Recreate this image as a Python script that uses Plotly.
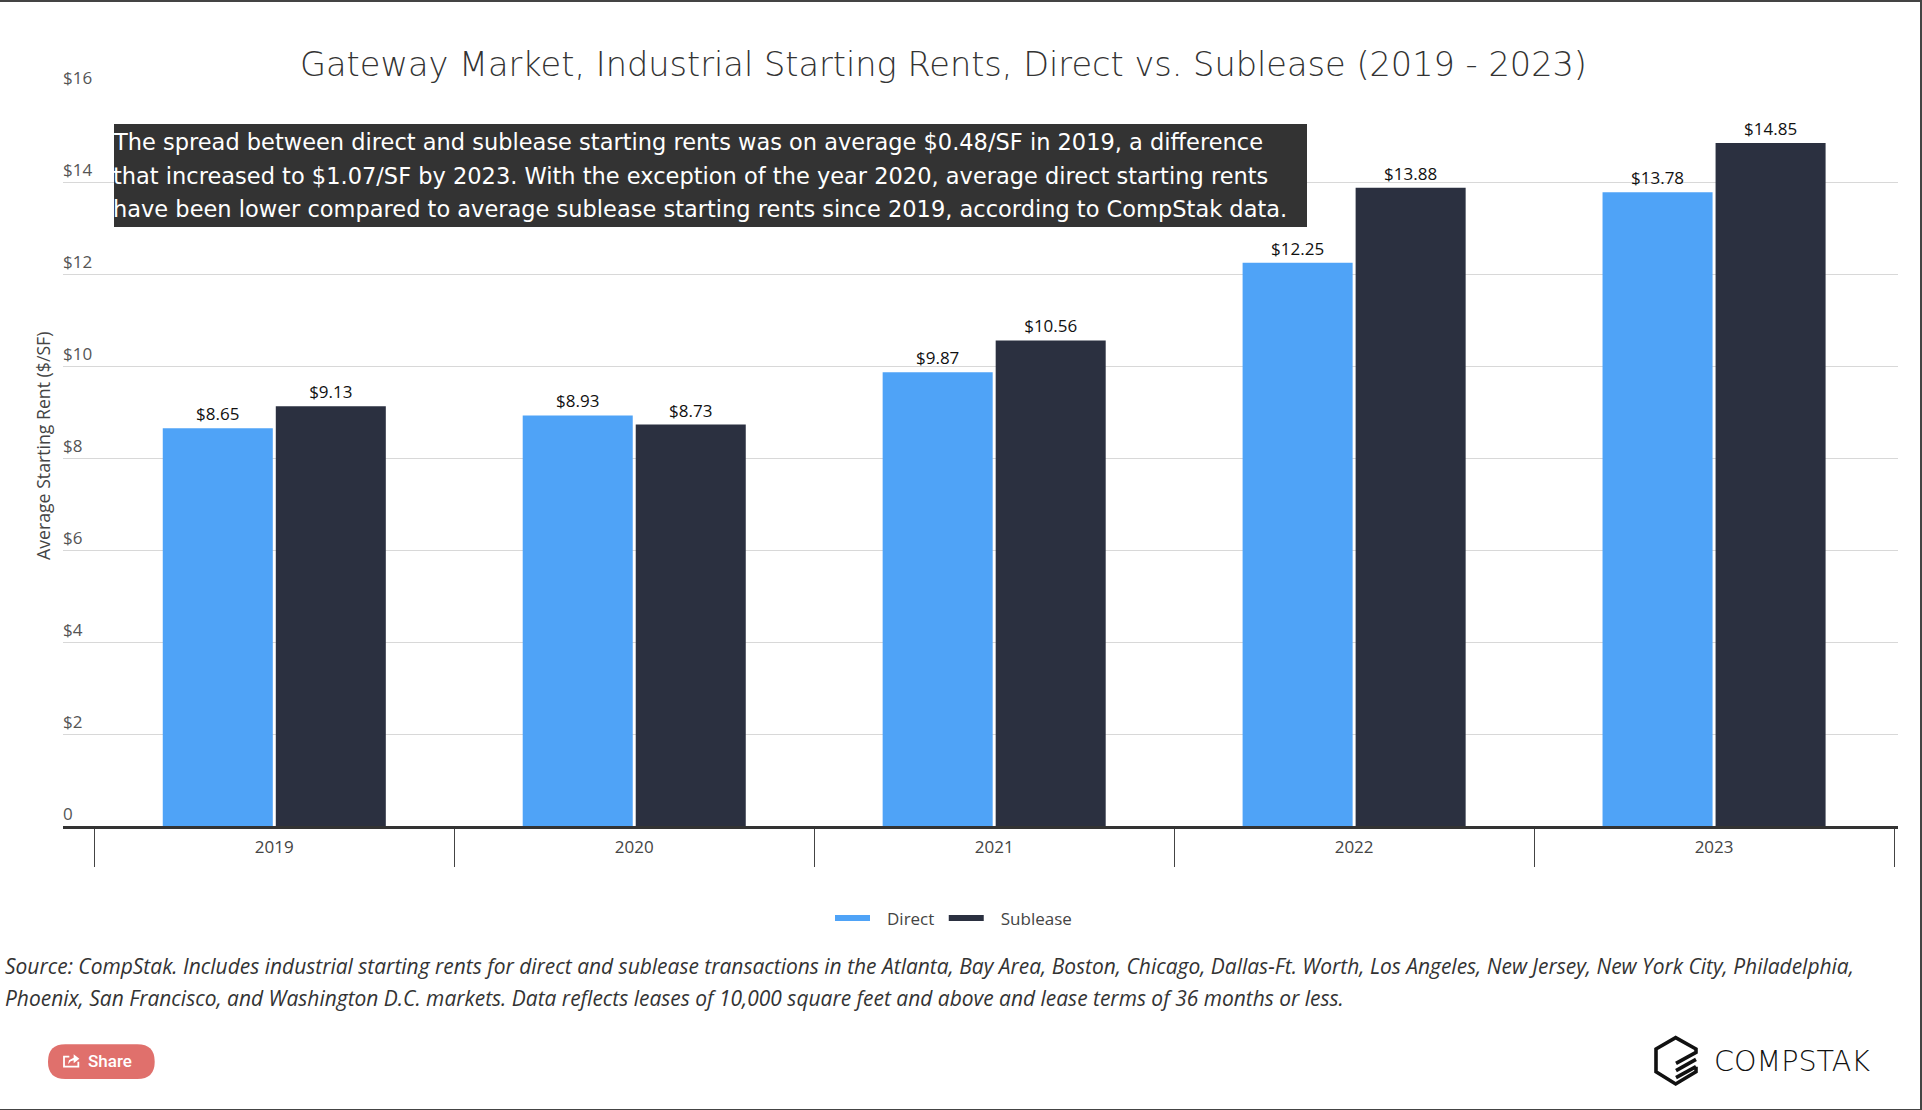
import plotly.graph_objects as go

W, H = 1922, 1110

years = ["2019", "2020", "2021", "2022", "2023"]
direct = [8.65, 8.93, 9.87, 12.25, 13.78]
sublease = [9.13, 8.73, 10.56, 13.88, 14.85]
y_ticks = [0, 2, 4, 6, 8, 10, 12, 14, 16]
y_labels = ["0", "$2", "$4", "$6", "$8", "$10", "$12", "$14", "$16"]
title_text = "Gateway Market, Industrial Starting Rents, Direct vs. Sublease (2019 - 2023)"
note_lines = [
    "The spread between direct and sublease starting rents was on average $0.48/SF in 2019, a difference",
    "that increased to $1.07/SF by 2023. With the exception of the year 2020, average direct starting rents",
    "have been lower compared to average sublease starting rents since 2019, according to CompStak data.",
]
source_lines = [
    "Source: CompStak. Includes industrial starting rents for direct and sublease transactions in the Atlanta, Bay Area, Boston, Chicago, Dallas-Ft. Worth, Los Angeles, New Jersey, New York City, Philadelphia,",
    "Phoenix, San Francisco, and Washington D.C. markets. Data reflects leases of 10,000 square feet and above and lease terms of 36 months or less.",
]

BLUE = "#4FA3F7"
NAVY = "#2B3040"
OS = "Open Sans"
WIDE = "DejaVu Sans"


def px(x):
    return x / W


def py(y):
    return 1 - y / H


def path(points, close=False):
    s = "M" + " L".join(f"{px(x):.5f},{py(y):.5f}" for x, y in points)
    return s + (" Z" if close else "")


def logo(pts):
    return [(1640 + x / 3, 1025 + y / 3) for x, y in pts]


def icon(pts):
    return [(40 + x / 3, 1035 + y / 3) for x, y in pts]


def rounded(x0, y0, x1, y1, r):
    return (
        f"M{px(x0 + r):.5f},{py(y0):.5f} L{px(x1 - r):.5f},{py(y0):.5f} "
        f"Q{px(x1):.5f},{py(y0):.5f} {px(x1):.5f},{py(y0 + r):.5f} "
        f"L{px(x1):.5f},{py(y1 - r):.5f} Q{px(x1):.5f},{py(y1):.5f} {px(x1 - r):.5f},{py(y1):.5f} "
        f"L{px(x0 + r):.5f},{py(y1):.5f} Q{px(x0):.5f},{py(y1):.5f} {px(x0):.5f},{py(y1 - r):.5f} "
        f"L{px(x0):.5f},{py(y0 + r):.5f} Q{px(x0):.5f},{py(y0):.5f} {px(x0 + r):.5f},{py(y0):.5f} Z"
    )


fig = go.Figure()
for name, legend_name, vals, col in [("Direct", "Direct\u00a0", direct, BLUE), ("Sublease", "Sublease", sublease, NAVY)]:
    fig.add_trace(go.Bar(
        x=years, y=vals, name=name, marker=dict(color=col, line=dict(width=0)),
        text=[f"${v:.2f}" for v in vals], textposition="outside",
        textfont=dict(family=OS, size=17, color="#111111"),
        cliponaxis=False, showlegend=False, hoverinfo="skip",
    ))
    fig.add_trace(go.Scatter(
        x=[None], y=[None], mode="lines", name=legend_name,
        line=dict(color=col, width=6, dash="35px,100px"),
    ))

shapes = [
    dict(type="rect", xref="paper", yref="paper", x0=px(114), x1=px(1307), y0=py(124), y1=py(227),
         fillcolor="#333333", line=dict(width=0), layer="above"),
    # page frame
    dict(type="rect", xref="paper", yref="paper", x0=0, x1=1, y0=py(2), y1=1,
         fillcolor="#444444", line=dict(width=0)),
    dict(type="rect", xref="paper", yref="paper", x0=px(1920), x1=1, y0=0, y1=1,
         fillcolor="#444444", line=dict(width=0)),
    dict(type="rect", xref="paper", yref="paper", x0=0, x1=1, y0=0, y1=py(1109),
         fillcolor="#444444", line=dict(width=0)),
    # share button
    dict(type="path", xref="paper", yref="paper", path=rounded(48, 1044.3, 154.7, 1079, 17.3),
         fillcolor="#E0706C", line=dict(width=0)),
    dict(type="path", xref="paper", yref="paper",
         path=path(icon([(88, 65), (72, 65), (72, 95), (115, 95), (115, 80)])),
         line=dict(color="white", width=1.8)),
    dict(type="path", xref="paper", yref="paper",
         path=path(icon([(84, 88), (87, 76), (101, 68), (101, 58), (118, 71), (101, 85), (101, 76), (92, 79)]), True),
         fillcolor="white", line=dict(width=0)),
]
for pts in [
    [(168, 125), (168, 140), (107, 177), (48, 140), (48, 72), (107, 38), (168, 72), (168, 82), (108, 115)],
    [(168, 103), (108, 137)],
    [(168, 125), (108, 158)],
]:
    shapes.append(dict(type="path", xref="paper", yref="paper", path=path(logo(pts)),
                       line=dict(color="#111111", width=3.6)))

annotations = []
for txt, yy in zip(note_lines, [141.5, 175.5, 209.5]):
    annotations.append(dict(
        xref="paper", yref="paper", x=px(111), y=py(yy), xanchor="left", yanchor="middle",
        text=txt, showarrow=False, font=dict(family=WIDE, size=22.5, color="white"),
    ))
for txt, yy in zip(source_lines, [966, 998]):
    annotations.append(dict(
        xref="paper", yref="paper", x=px(3), y=py(yy), xanchor="left", yanchor="middle",
        text=f"<i>{txt}</i>", showarrow=False, font=dict(family=OS, size=20.96, color="#333333"),
    ))
annotations.append(dict(
    xref="paper", yref="paper", x=px(110), y=py(1061), xanchor="center", yanchor="middle",
    text="Share", showarrow=False, font=dict(family="Roboto", size=17, color="white", weight=500),
))
annotations.append(dict(
    xref="paper", yref="paper", x=px(1712), y=py(1061), xanchor="left", yanchor="middle",
    text="COMPSTAK", showarrow=False, font=dict(family=WIDE, size=28.6, color="#111111", weight=200),
))
annotations.append(dict(
    xref="paper", yref="paper", x=px(43), y=py(446), xanchor="center", yanchor="middle",
    text="Average Starting Rent ($/SF)", textangle=-90, showarrow=False,
    font=dict(family=OS, size=17.7, color="#444444"),
))

fig.update_layout(
    width=W, height=H, autosize=False,
    margin=dict(l=0, r=0, t=0, b=0, autoexpand=False),
    paper_bgcolor="white", plot_bgcolor="white",
    title=dict(
        text=title_text, x=px(943.5), xref="paper", xanchor="center",
        y=py(64), yref="paper", yanchor="middle",
        font=dict(family=WIDE, size=33.6, color="#333333", weight=200),
    ),
    barmode="group", bargap=0.372, bargroupgap=0.0265,
    legend=dict(
        orientation="h", x=px(830), y=py(900.5), xanchor="left", yanchor="top",
        xref="paper", yref="paper", itemwidth=47,
        font=dict(family=OS, size=17, color="#444444"), bgcolor="rgba(0,0,0,0)",
        traceorder="normal", itemclick=False, itemdoubleclick=False,
    ),
    xaxis=dict(
        domain=[px(63), px(1898)], automargin=False,
        type="category", categoryorder="array", categoryarray=years,
        range=[-0.587, 4.511],
        showline=True, linecolor="#333333", linewidth=3,
        ticks="outside", tickson="boundaries", ticklen=38, tickwidth=1, tickcolor="#444444",
        ticklabelstandoff=3,
        tickfont=dict(family=OS, size=17, color="#444444"),
        showgrid=False, zeroline=False,
    ),
    yaxis=dict(
        domain=[py(826.2), py(90.2)], automargin=False,
        range=[0, 16], tickmode="array", tickvals=y_ticks, ticktext=y_labels,
        ticks="", ticklabelposition="inside top", ticklabeloverflow="allow",
        ticklabelstandoff=-3,
        tickfont=dict(family=OS, size=17, color="#555555"),
        showgrid=True, gridcolor="#D8D8D8", gridwidth=1, zeroline=False, showline=False,
    ),
    shapes=shapes, annotations=annotations,
    uniformtext=dict(mode=False),
)

fig.write_html(
    "out.html", config={"displayModeBar": False},
    post_script="document.body.style.margin='0';document.body.style.overflow='hidden';",
)
